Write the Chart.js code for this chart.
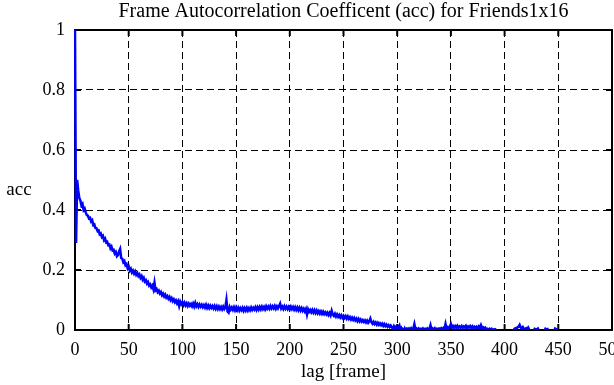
<!DOCTYPE html>
<html>
<head>
<meta charset="utf-8">
<title>Frame Autocorrelation Coefficent</title>
<script src="https://cdn.jsdelivr.net/npm/chart.js@4.4.0/dist/chart.umd.min.js"></script>
<style>
  body { margin: 0; background: #fff; }
  canvas { display: block; }
</style>
</head>
<body>
<canvas id="accChart" width="614" height="385"></canvas>
<script>
const chartTitle = 'Frame Autocorrelation Coefficent (acc) for Friends1x16';
const xTitle = 'lag [frame]';
const yTitle = 'acc';

const xTicks = [0, 50, 100, 150, 200, 250, 300, 350, 400, 450, 500];
const xTickLabels = ['0', '50', '100', '150', '200', '250', '300', '350', '400', '450', '500'];
const yTicks = [0, 0.2, 0.4, 0.6, 0.8, 1];
const yTickLabels = ['0', '0.2', '0.4', '0.6', '0.8', '1'];

// acc value for lag 0, 1, 2, ... (one per frame)
const accValues = [
  1.0, 0.29, 0.50, 0.465, 0.44, 0.432, 0.415, 0.42, 0.40, 0.405,
  0.392, 0.383, 0.381, 0.372, 0.374, 0.362, 0.366, 0.35, 0.352, 0.34,
  0.339, 0.33, 0.332, 0.319, 0.322, 0.31, 0.314, 0.3, 0.305, 0.292,
  0.294, 0.283, 0.285, 0.272, 0.278, 0.265, 0.267, 0.255, 0.26, 0.246,
  0.25, 0.262, 0.27, 0.24, 0.238, 0.226, 0.23, 0.216, 0.22, 0.206,
  0.212, 0.198, 0.204, 0.192, 0.198, 0.188, 0.195, 0.184, 0.19, 0.18,
  0.185, 0.174, 0.18, 0.168, 0.174, 0.162, 0.166, 0.155, 0.16, 0.148,
  0.152, 0.142, 0.148, 0.136, 0.158, 0.132, 0.136, 0.126, 0.131, 0.122,
  0.127, 0.116, 0.121, 0.112, 0.118, 0.108, 0.113, 0.104, 0.11, 0.1,
  0.106, 0.096, 0.102, 0.093, 0.099, 0.089, 0.096, 0.08, 0.094, 0.086,
  0.093, 0.083, 0.091, 0.082, 0.089, 0.08, 0.088, 0.081, 0.087, 0.079,
  0.088, 0.078, 0.09, 0.079, 0.086, 0.077, 0.085, 0.078, 0.084, 0.076,
  0.083, 0.075, 0.084, 0.074, 0.082, 0.073, 0.081, 0.074, 0.08, 0.072,
  0.08, 0.071, 0.079, 0.07, 0.078, 0.07, 0.077, 0.069, 0.078, 0.07,
  0.076, 0.1, 0.062, 0.058, 0.076, 0.068, 0.075, 0.067, 0.076, 0.066,
  0.075, 0.066, 0.074, 0.065, 0.073, 0.066, 0.074, 0.064, 0.073, 0.065,
  0.074, 0.065, 0.073, 0.066, 0.075, 0.067, 0.074, 0.068, 0.076, 0.067,
  0.076, 0.068, 0.077, 0.069, 0.078, 0.07, 0.077, 0.069, 0.079, 0.071,
  0.078, 0.071, 0.08, 0.072, 0.079, 0.072, 0.08, 0.071, 0.079, 0.072,
  0.08, 0.088, 0.072, 0.078, 0.07, 0.079, 0.071, 0.078, 0.07, 0.077,
  0.069, 0.078, 0.07, 0.077, 0.068, 0.076, 0.067, 0.075, 0.066, 0.074,
  0.065, 0.073, 0.064, 0.071, 0.062, 0.07, 0.052, 0.069, 0.061, 0.067,
  0.059, 0.067, 0.058, 0.066, 0.057, 0.065, 0.056, 0.063, 0.055, 0.062,
  0.054, 0.061, 0.053, 0.059, 0.052, 0.058, 0.05, 0.057, 0.049, 0.064,
  0.052, 0.047, 0.054, 0.045, 0.052, 0.044, 0.05, 0.042, 0.049, 0.041,
  0.047, 0.04, 0.046, 0.038, 0.045, 0.037, 0.043, 0.035, 0.041, 0.034,
  0.04, 0.032, 0.038, 0.03, 0.037, 0.029, 0.035, 0.028, 0.033, 0.027,
  0.032, 0.025, 0.031, 0.024, 0.029, 0.038, 0.026, 0.021, 0.027, 0.02,
  0.025, 0.018, 0.024, 0.017, 0.022, 0.016, 0.021, 0.014, 0.02, 0.013,
  0.018, 0.011, 0.016, 0.01, 0.015, 0.009, 0.004, 0.013, 0.007, 0.011,
  0.005, 0.009, 0.015, -0.004, 0.007, 0.002, -0.006, 0.006, 0.001, 0.005,
  0.001, 0.005, 0.0, 0.006, 0.001, 0.005, 0.02, 0.002, 0.005, 0.0,
  0.005, 0.001, 0.004, -0.001, 0.005, 0.0, 0.004, 0.001, 0.005, 0.0,
  0.004, 0.016, 0.0, 0.005, 0.001, 0.006, 0.0, 0.004, 0.001, 0.005,
  0.002, 0.006, 0.002, 0.007, 0.003, 0.02, 0.004, 0.009, 0.005, 0.012,
  0.02, 0.008, 0.013, 0.007, 0.013, 0.008, 0.014, 0.007, 0.012, 0.008,
  0.013, 0.007, 0.012, 0.008, 0.014, 0.007, 0.012, 0.008, 0.013, 0.007,
  0.012, 0.006, 0.011, 0.007, 0.011, 0.006, 0.012, 0.006, 0.016, 0.006,
  0.009, 0.005, 0.008, 0.002, 0.004, 0.0, 0.004, 0.001, 0.004, 0.0,
  0.002, 0.003, 0.0, -0.004, -0.006, -0.005, -0.007, -0.005, -0.008, -0.006,
  -0.007, -0.005, -0.006, -0.008, -0.006, -0.005, -0.007, -0.004, -0.003, 0.003,
  0.006, 0.004, 0.009, 0.011, 0.017, 0.008, 0.005, 0.01, 0.004, 0.003,
  0.006, 0.002, 0.008, 0.001, -0.004, -0.006, -0.005, -0.004, 0.004, 0.003,
  0.002, 0.005, -0.004, -0.006, -0.005, -0.007, -0.005, -0.003, 0.004, 0.002,
  0.003, -0.004, -0.006, -0.005, -0.007, -0.005, -0.004, 0.005, 0.003, -0.004,
  -0.006
];
const lags = accValues.map((v, i) => i);

// frame box, inward tick marks and the horizontal y label
const framePlugin = {
  id: 'frame',
  beforeDatasetsDraw(chart) {
    const { ctx, chartArea: a, scales } = chart;
    ctx.save();
    ctx.strokeStyle = '#000';
    ctx.lineWidth = 2;
    ctx.setLineDash([]);
    ctx.strokeRect(a.left, a.top, a.right - a.left, a.bottom - a.top);
    ctx.beginPath();
    xTicks.forEach(v => {
      const px = scales.x.getPixelForValue(v);
      ctx.moveTo(px, a.bottom); ctx.lineTo(px, a.bottom - 6);
      ctx.moveTo(px, a.top); ctx.lineTo(px, a.top + 6);
    });
    yTicks.forEach(v => {
      const py = scales.y.getPixelForValue(v);
      ctx.moveTo(a.left, py); ctx.lineTo(a.left + 6, py);
      ctx.moveTo(a.right, py); ctx.lineTo(a.right - 6, py);
    });
    ctx.stroke();
    ctx.font = '19px "Liberation Serif"';
    ctx.fillStyle = '#000';
    ctx.textAlign = 'center';
    ctx.textBaseline = 'middle';
    ctx.fillText(yTitle, 19, 190);
    ctx.restore();
  }
};

Chart.defaults.font.family = '"Liberation Serif", "DejaVu Serif", serif';
Chart.defaults.font.size = 18;
Chart.defaults.color = '#000';

const ctx = document.getElementById('accChart').getContext('2d');
const chart = new Chart(ctx, {
  type: 'line',
  data: {
    datasets: [{
      data: lags.map((lag, i) => ({ x: lag, y: accValues[i] })),
      borderColor: '#0000ff',
      borderWidth: 2.5,
      pointRadius: 0,
      tension: 0,
      fill: false,
      clip: { left: 1, top: 1, right: 0, bottom: 0 }
    }]
  },
  options: {
    responsive: false,
    animation: false,
    devicePixelRatio: 1,
    layout: { padding: { left: 0, right: 2, top: 0, bottom: 0 } },
    plugins: {
      legend: { display: false },
      tooltip: { enabled: false },
      title: {
        display: true,
        text: chartTitle,
        fullSize: false,
        color: '#000',
        font: { size: 20, weight: 'normal', lineHeight: 1 },
        padding: { top: 2, bottom: 8 }
      }
    },
    scales: {
      x: {
        type: 'linear',
        min: 0,
        max: 500,
        afterBuildTicks: s => { s.ticks = xTicks.map(v => ({ value: v })); },
        afterFit: s => { s.height = 55; s.paddingLeft = 0; s.paddingRight = 0; },
        grid: { color: '#000', lineWidth: 1, drawTicks: false },
        border: { display: false, dash: [7, 4] },
        ticks: { color: '#000', padding: 9, maxRotation: 0, autoSkip: false, callback: (v, i) => xTickLabels[i] },
        title: { display: true, text: xTitle, color: '#000', font: { size: 19 }, padding: { top: 0, bottom: 2 } }
      },
      y: {
        min: 0,
        max: 1,
        afterBuildTicks: s => { s.ticks = yTicks.map(v => ({ value: v })); },
        afterFit: s => { s.width = 75; s.paddingTop = 0; s.paddingBottom = 0; },
        grid: { color: '#000', lineWidth: 1, drawTicks: false },
        border: { display: false, dash: [7, 4] },
        ticks: { color: '#000', padding: 10, callback: (v, i) => yTickLabels[i] }
      }
    }
  },
  plugins: [framePlugin]
});
</script>
</body>
</html>
